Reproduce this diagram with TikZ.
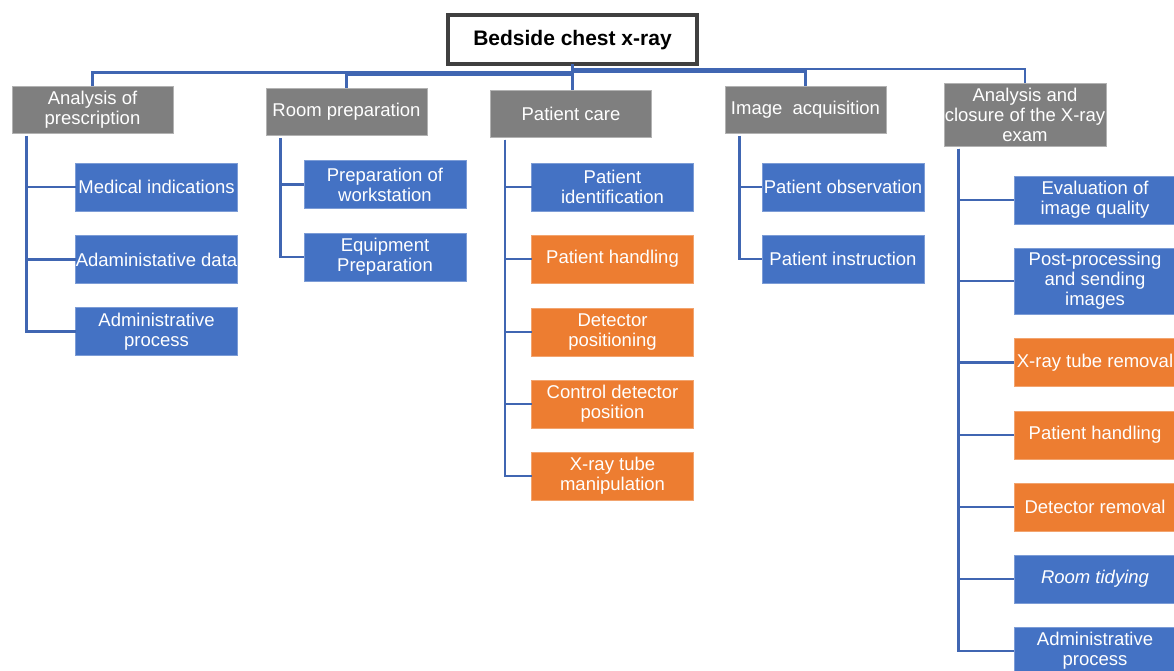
\documentclass[tikz,border=0pt]{standalone}
\usepackage{fontspec}
\setmainfont{Liberation Sans}
\definecolor{cblue}{HTML}{4472C4}
\definecolor{corange}{HTML}{ED7D31}
\definecolor{cgray}{HTML}{7F7F7F}
\definecolor{cline}{RGB}{64,102,178}
\definecolor{cframe}{HTML}{404040}
\begin{document}
\begin{tikzpicture}[x=1pt,y=-1pt,
  every node/.style={inner sep=0pt,outer sep=0pt,align=center,text=white,
    font=\fontsize{18.5}{20}\selectfont},
  catbox/.style={fill=cgray,draw=gray!60,line width=0.6pt,minimum width=161pt,minimum height=47pt},
  bluebox/.style={fill=cblue,draw=cblue!70!white,line width=0.6pt,minimum width=162pt,minimum height=48pt},
  orangebox/.style={fill=corange,draw=corange!70!white,line width=0.6pt,minimum width=162pt,minimum height=48pt},
  titlebox/.style={fill=white,draw=cframe,line width=4pt,minimum width=249pt,minimum height=49pt,text=black,
    font=\fontsize{21}{24}\selectfont\bfseries},
  conn/.style={draw=cline,line width=2.4pt}
]
\useasboundingbox (0,0) rectangle (1174,671);
\clip (0,0) rectangle (1174,671);

% title
\node[titlebox] (top) at (572.5,40) {Bedside chest x-ray};

% categories
\node[catbox] (c1) at (92.5,109.5) {Analysis of\\prescription};
\node[catbox] (c2) at (346.5,112) {Room preparation};
\node[catbox] (c3) at (571,113.5) {Patient care};
\node[catbox] (c4) at (805.5,109.5) {Image~~acquisition};
\node[catbox,minimum width=162pt,minimum height=63pt] (c5) at (1025,114.5) {Analysis and\\closure of the X-ray\\exam};

% column 1
\node[bluebox] (a1) at (156.5,187) {Medical indications};
\node[bluebox] (a2) at (156.5,259.5) {Adaministative data};
\node[bluebox] (a3) at (156.5,331.5) {Administrative\\process};

% column 2
\node[bluebox] (b1) at (385,184.5) {Preparation of\\workstation};
\node[bluebox] (b2) at (385,257) {Equipment\\Preparation};

% column 3
\node[bluebox] (d1) at (612.5,187) {Patient\\identification};
\node[orangebox] (d2) at (612.5,259) {Patient handling};
\node[orangebox] (d3) at (612.5,332) {Detector\\positioning};
\node[orangebox] (d4) at (612.5,404) {Control detector\\position};
\node[orangebox] (d5) at (612.5,476) {X-ray tube\\manipulation};

% column 4
\node[bluebox] (e1) at (843,187) {Patient observation};
\node[bluebox] (e2) at (843,259) {Patient instruction};

% column 5
\node[bluebox] (f1) at (1095,200) {Evaluation of\\image quality};
\node[bluebox,minimum height=66pt] (f2) at (1095,281) {Post-processing\\and sending\\images};
\node[orangebox] (f3) at (1095,362.5) {X-ray tube removal};
\node[orangebox] (f4) at (1095,435) {Patient handling};
\node[orangebox] (f5) at (1095,507) {Detector removal};
\node[bluebox] (f6) at (1095,579) {\itshape Room tidying};
\node[bluebox] (f7) at (1095,651) {Administrative\\process};

% top connectors
\draw[conn] (top.south) -- ++(0,8) -| (c1.north);
\draw[conn] (top.south) -- ++(0,10) -| (c2.north);
\draw[conn] (top.south) -- (top.south |- c3.north);
\draw[conn] (top.south) -- ++(0,7) -| (c4.north);
\draw[conn] (top.south) -- ++(0,4.5) -| (c5.north);

% column connectors
\foreach \c/\k in {c1/a1,c1/a2,c1/a3,c2/b1,c2/b2,c3/d1,c3/d2,c3/d3,c3/d4,c3/d5,c4/e1,c4/e2,
  c5/f1,c5/f2,c5/f3,c5/f4,c5/f5,c5/f6,c5/f7}
  \draw[conn] ([xshift=14.5pt,yshift=-3pt]\c.south west) |- (\k.west);
\end{tikzpicture}
\end{document}
